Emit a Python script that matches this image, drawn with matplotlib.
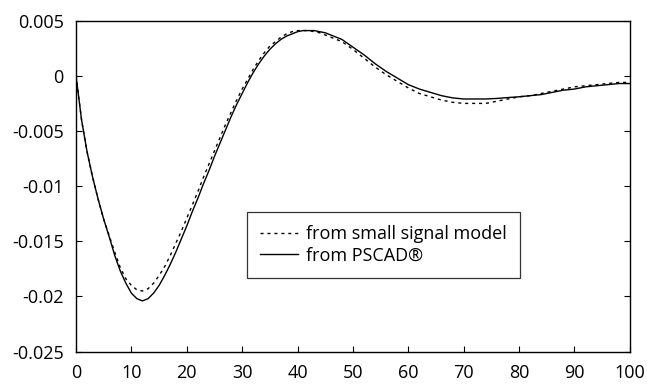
import numpy as np
import matplotlib
matplotlib.use("Agg")
import matplotlib.pyplot as plt

plt.rcParams['font.family'] = ['Open Sans', 'DejaVu Sans']

# --- data ---
t_fine = list(range(0, 47))
t_coarse = list(range(48, 101, 2))

pscad_fine = [
    0.0000, -0.0040, -0.0069, -0.0092, -0.0112, -0.0130, -0.0146, -0.0163,
    -0.0177, -0.0188, -0.0197, -0.0202, -0.0204, -0.0202, -0.0197, -0.0190,
    -0.0181, -0.0171, -0.0160, -0.0148, -0.0136, -0.0123, -0.0111, -0.0098,
    -0.0086, -0.0073, -0.0061, -0.0049, -0.0037, -0.0026, -0.0016, -0.0006,
    0.0003, 0.0011, 0.0018, 0.0024, 0.0029, 0.0033, 0.0036, 0.0038,
    0.0040, 0.0041, 0.0041, 0.0041, 0.0040, 0.0039, 0.0037,
]
pscad_coarse = [
    0.0033, 0.0026, 0.0019, 0.0011, 0.0004, -0.0002, -0.0008, -0.0012,
    -0.0015, -0.0018, -0.0020, -0.0021, -0.0021, -0.0021, -0.00205, -0.00197,
    -0.0019, -0.0018, -0.0017, -0.0015, -0.0013, -0.0012, -0.0010, -0.0009,
    -0.0008, -0.0007, -0.0007,
]

ssm_fine = [
    0.0000, -0.0040, -0.0069, -0.0092, -0.0112, -0.0130, -0.0145, -0.0160,
    -0.0174, -0.0184, -0.0190, -0.0194, -0.0195, -0.0193, -0.0188, -0.0181,
    -0.0173, -0.0163, -0.0152, -0.0141, -0.0129, -0.0117, -0.0105, -0.0092,
    -0.0080, -0.0068, -0.0056, -0.0044, -0.0033, -0.0022, -0.0012, -0.0003,
    0.0006, 0.0014, 0.0021, 0.0027, 0.0031, 0.0035, 0.0038, 0.0040,
    0.0041, 0.0041, 0.0041, 0.0040, 0.0039, 0.0037, 0.0035,
]
ssm_coarse = [
    0.0031, 0.0024, 0.0016, 0.0008, 0.0001, -0.0005, -0.0011, -0.0016,
    -0.0019, -0.0022, -0.0024, -0.0025, -0.0025, -0.0025, -0.0023, -0.0021,
    -0.0019, -0.0018, -0.0016, -0.0014, -0.0012, -0.0010, -0.0009, -0.0008,
    -0.0007, -0.0006, -0.0006,
]

x_ticks = [0, 10, 20, 30, 40, 50, 60, 70, 80, 90, 100]
y_ticks = [0.005, 0, -0.005, -0.01, -0.015, -0.02, -0.025]
y_labels = ["0.005", "0", "-0.005", "-0.01", "-0.015", "-0.02", "-0.025"]

t = t_fine + t_coarse

fig = plt.figure(figsize=(6.47, 3.86), dpi=100)
ax = fig.add_axes([0.1175, 0.089, 0.856, 0.8575])

ax.plot(t, ssm_fine + ssm_coarse, color='black', linewidth=1.0,
        dashes=(2.2, 2.8), label='from small signal model')
ax.plot(t, pscad_fine + pscad_coarse, color='black', linewidth=1.0,
        label='from PSCAD®')

ax.set_xlim(0, 100)
ax.set_ylim(-0.025, 0.005)
ax.set_xticks(x_ticks)
ax.set_xticklabels([str(v) for v in x_ticks])
ax.set_yticks(y_ticks)
ax.set_yticklabels(y_labels)
ax.tick_params(axis='both', direction='in', length=4.5, width=0.8,
               labelsize=13, colors='black')
ax.tick_params(axis='y', right=True, pad=9)
ax.tick_params(axis='x', pad=9)
for s in ax.spines.values():
    s.set_linewidth(1.0)

leg = ax.legend(loc='upper left', bbox_to_anchor=(0.308, 0.423),
                fontsize=13, frameon=True, fancybox=False, shadow=False,
                borderpad=0.75, handlelength=2.1, handletextpad=0.45,
                labelspacing=0.2, borderaxespad=0)
leg.get_frame().set_edgecolor('black')
leg.get_frame().set_linewidth(0.9)

fig.savefig('out.png', dpi=100)
